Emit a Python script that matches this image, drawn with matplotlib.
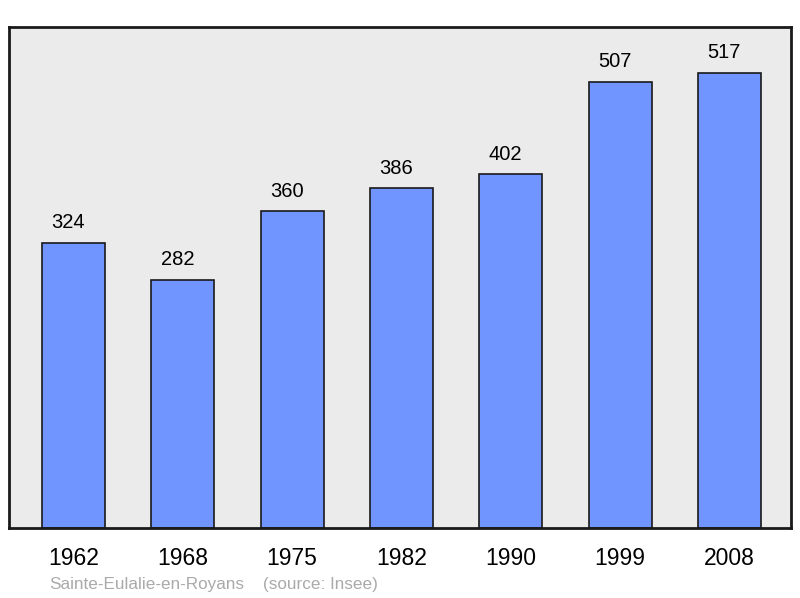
import matplotlib
matplotlib.use("Agg")
import matplotlib.pyplot as plt

years = ["1962", "1968", "1975", "1982", "1990", "1999", "2008"]
population = [324, 282, 360, 386, 402, 507, 517]

plt.rcParams['font.family'] = ['Liberation Sans', 'DejaVu Sans']

fig = plt.figure(figsize=(8, 5.98), dpi=100)
ax = fig.add_axes([9/800, 1 - 528/598, (791-9)/800, (528-27)/598])
ax.set_facecolor('#ebebeb')

x = list(range(len(years)))
bars = ax.bar(x, population, width=0.576, color='#7095ff', edgecolor='#1a1a1a', linewidth=1.2, zorder=2)
ax.set_xlim(-0.590, 6.563)
ax.set_ylim(0, 569)

for xi, v in zip(x, population):
    ax.annotate(str(v), (xi, v), xytext=(-5.5, 20), textcoords='offset pixels',
                ha='center', va='center', fontsize=14.5, color='#000000')

ax.set_xticks(x)
ax.set_xticklabels(years, fontsize=16.5)
ax.tick_params(axis='x', length=0, pad=14)
ax.set_yticks([])
for s in ax.spines.values():
    s.set_linewidth(2)
    s.set_color('#1a1a1a')

fig.text(49/800, 1 - 585/598, "Sainte-Eulalie-en-Royans", fontsize=12.3, color='#aaaaaa', va='center', ha='left')
fig.text(263/800, 1 - 585/598, "(source: Insee)", fontsize=12.3, color='#aaaaaa', va='center', ha='left')

fig.savefig("out.png", dpi=100)
